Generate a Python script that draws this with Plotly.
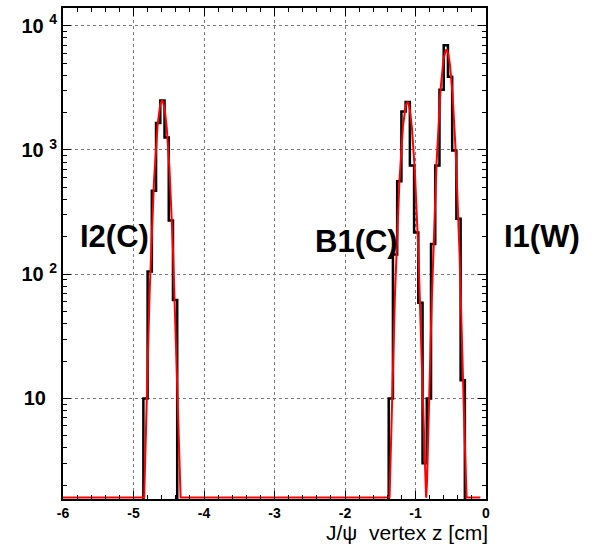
import numpy as np
import plotly.graph_objects as go

# Binning of the J/psi vertex-z histogram
n_bins = 100
z_lo, z_hi = -6.0, 0.0

# Populated bins: low edge of the first filled bin and the consecutive contents
i2_first_edge = -4.86
i2_counts = [10, 105, 470, 1650, 2500, 1260, 270, 62]
b1i1_first_edge = -1.38
b1i1_counts = [10, 144, 560, 2040, 2430, 750, 217, 59, 3,
               10, 175, 750, 3060, 6980, 3890, 990, 280, 14]

# Gaussian fit parameters: I2(C), B1(C), I1(W)
fit_amp = [2500, 2420, 6400]
fit_mean = [-4.595, -1.115, -0.562]
fit_sigma = [0.066, 0.066, 0.068]
fit_range = [-6.0, -0.08]

# Axis ticks
x_tickvals = [-6, -5, -4, -3, -2, -1, 0]
x_ticktext = ["-6", "-5", "-4", "-3", "-2", "-1", "0"]
y_tickvals = [10, 100, 1000, 10000]
y_exponents = ["", "2", "3", "4"]

target_labels = ["I2(C)", "B1(C)", "I1(W)"]

# ---------------------------------------------------------------------------
width = (z_hi - z_lo) / n_bins
counts = np.zeros(n_bins)
for first_edge, block in [(i2_first_edge, i2_counts), (b1i1_first_edge, b1i1_counts)]:
    start = int(round((first_edge - z_lo) / width))
    counts[start:start + len(block)] = block
centers = z_lo + width * (np.arange(n_bins) + 0.5)

y_log_range = [0.19, 4.143]
y_floor = 10 ** y_log_range[0]

# empty bins go below the frame (log scale cannot show zero)
hist_y = np.where(counts > 0, counts, 1e-2)

zf = np.linspace(fit_range[0], fit_range[1], 3000)
fit = np.zeros_like(zf)
for a, m, s in zip(fit_amp, fit_mean, fit_sigma):
    fit += a * np.exp(-0.5 * ((zf - m) / s) ** 2)
fit_y = np.maximum(fit, y_floor * 1.03)

fig = go.Figure()
fig.add_trace(go.Scatter(
    x=centers, y=hist_y, mode="lines",
    line=dict(color="black", width=2.5, shape="hvh"),
    hoverinfo="skip", showlegend=False))
fig.add_trace(go.Scatter(
    x=zf, y=fit_y, mode="lines",
    line=dict(color="#ff0000", width=2),
    hoverinfo="skip", showlegend=False))

font_family = "Liberation Sans, Arial, Helvetica, sans-serif"

y_ticktext = []
for e in y_exponents:
    if e:
        y_ticktext.append("10 <sup>%s</sup>" % e)
    else:
        y_ticktext.append("10\u00a0\u00a0")

minor_y = [d * 10 ** k for k in range(0, 4) for d in range(2, 10)]

fig.update_layout(
    width=603, height=548,
    margin=dict(l=63, r=117, t=6, b=49),
    paper_bgcolor="white", plot_bgcolor="white",
    font=dict(family=font_family, color="black"),
    xaxis=dict(
        range=[z_lo, z_hi], tickmode="array",
        tickvals=x_tickvals, ticktext=x_ticktext,
        ticks="inside", ticklen=8, tickwidth=1, tickcolor="black",
        tickfont=dict(size=14, weight="bold"),
        showline=True, linecolor="black", linewidth=2, mirror="ticks",
        showgrid=True, gridcolor="#7a7a7a", griddash="dot", gridwidth=1,
        zeroline=False,
        minor=dict(dtick=0.2, tick0=0, ticks="inside", ticklen=4,
                   tickcolor="black", tickwidth=1, showgrid=False),
    ),
    yaxis=dict(
        type="log", range=y_log_range, tickmode="array",
        tickvals=y_tickvals, ticktext=y_ticktext,
        ticks="inside", ticklen=8, tickwidth=1, tickcolor="black",
        tickfont=dict(size=20, weight="bold"),
        showline=True, linecolor="black", linewidth=2, mirror="ticks",
        showgrid=True, gridcolor="#7a7a7a", griddash="dot", gridwidth=1,
        zeroline=False,
        minor=dict(tickmode="array", tickvals=minor_y, ticks="inside",
                   ticklen=4, tickcolor="black", tickwidth=1, showgrid=False),
    ),
)

label_pos = [(0.1229, 0.5355), (0.695, 0.525), (1.132, 0.5355)]
for text, (px, py) in zip(target_labels, label_pos):
    fig.add_annotation(
        x=px, y=py, xref="paper", yref="paper", text=text, showarrow=False,
        xanchor="center", yanchor="middle",
        font=dict(size=31, weight="bold", color="black", family=font_family))

fig.add_annotation(
    x=1, y=0, xref="paper", yref="paper", xanchor="right", yanchor="middle",
    xshift=4, yshift=-33, showarrow=False,
    text="J/\u03c8\u00a0 vertex z [cm]",
    font=dict(size=21, color="black", family=font_family))

fig.write_html("out.html")
